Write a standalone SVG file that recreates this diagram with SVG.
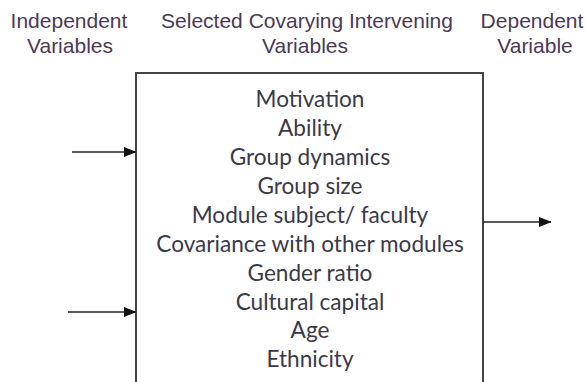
<svg xmlns="http://www.w3.org/2000/svg" width="586" height="382" viewBox="0 0 586 382">
<defs>
<style>
.hd{font-family:"Liberation Sans",Arial,sans-serif;font-size:21px;fill:#4a3a58;text-anchor:middle}
.it{font-family:Lato,"Open Sans",sans-serif;font-size:22.6px;fill:#3a3a48;text-anchor:middle}
.ln{stroke:#222;stroke-width:1.6;fill:none}
.bx{stroke:#444;stroke-width:2;fill:#fff}
</style>
<marker id="ah" viewBox="0 0 10 10" refX="9.5" refY="5" markerWidth="8" markerHeight="8" orient="auto" markerUnits="strokeWidth">
<path d="M0,1 L10,5 L0,9 z" fill="#111"/>
</marker>
</defs>
<rect width="586" height="382" fill="#fff"/>
<g id="header-independent">
<text class="hd" x="69" y="28">Independent</text>
<text class="hd" x="70" y="53">Variables</text>
</g>
<g id="header-intervening">
<text class="hd" x="307" y="28">Selected Covarying Intervening</text>
<text class="hd" x="305" y="53">Variables</text>
</g>
<g id="header-dependent">
<text class="hd" x="532" y="28">Dependent</text>
<text class="hd" x="535" y="53">Variable</text>
</g>
<g id="box">
<rect class="bx" x="136" y="73" width="347" height="330"/>
<text class="it" x="310" y="107">Motivation</text>
<text class="it" x="310" y="136">Ability</text>
<text class="it" x="310" y="165">Group dynamics</text>
<text class="it" x="310" y="194">Group size</text>
<text class="it" x="310" y="223">Module subject/ faculty</text>
<text class="it" x="310" y="252">Covariance with other modules</text>
<text class="it" x="310" y="281">Gender ratio</text>
<text class="it" x="310" y="309.5">Cultural capital</text>
<text class="it" x="310" y="338">Age</text>
<text class="it" x="310" y="367">Ethnicity</text>
</g>
<g id="connectors">
<line class="ln" x1="72" y1="152" x2="136" y2="152" marker-end="url(#ah)"/>
<line class="ln" x1="68" y1="312" x2="136" y2="312" marker-end="url(#ah)"/>
<line class="ln" x1="483" y1="222" x2="551" y2="222" marker-end="url(#ah)"/>
</g>
</svg>
